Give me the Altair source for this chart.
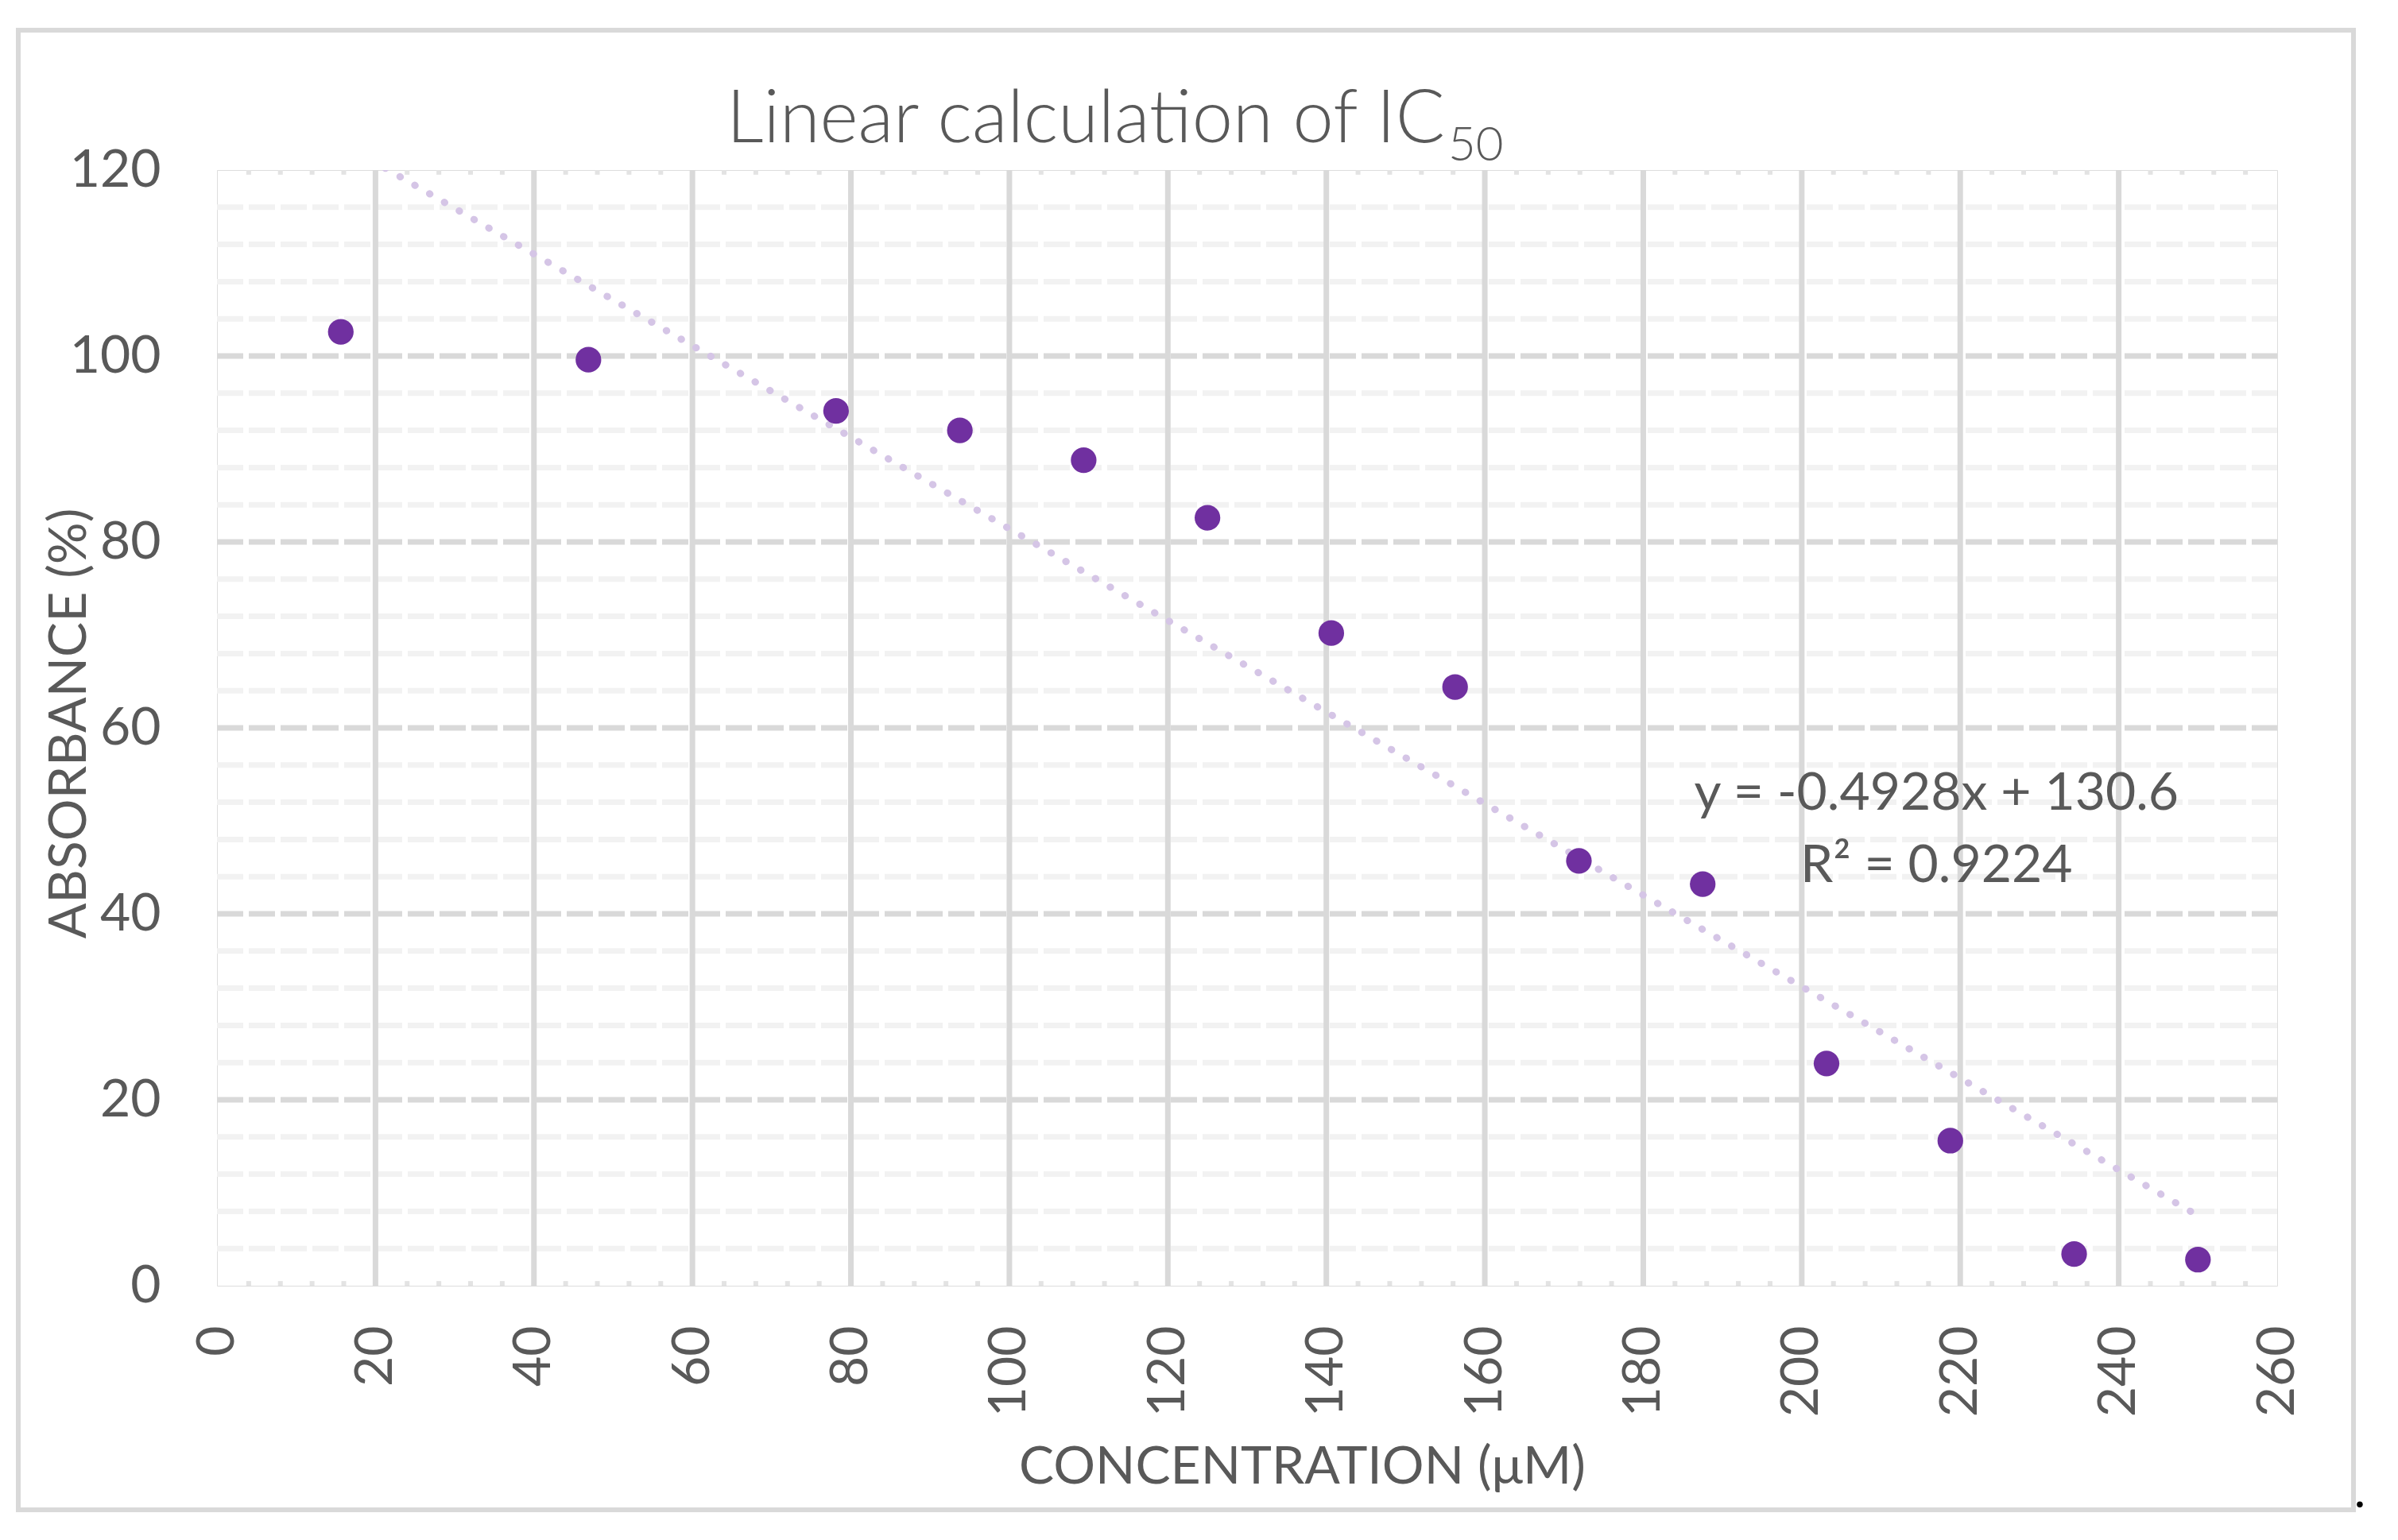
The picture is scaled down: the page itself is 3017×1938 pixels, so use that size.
import altair as alt
import pandas as pd

# ---- data ----
concentration = [15.625, 46.875, 78.125, 93.75, 109.375, 125.0, 140.625,
                 156.25, 171.875, 187.5, 203.125, 218.75, 234.375, 250.0]
absorbance = [102.6, 99.6, 94.1, 92.0, 88.8, 82.6, 70.2,
              64.4, 45.7, 43.2, 23.9, 15.6, 3.4, 2.8]
x_ticks = list(range(0, 261, 20))
y_ticks = list(range(0, 121, 20))
x_minor = [v for v in range(0, 261, 4) if v % 20 != 0]
y_minor = [v for v in range(0, 121, 4) if v % 20 != 0]
title_main = "Linear calculation of IC"
title_sub = "50"
equation_text = "y = -0.4928x + 130.6"
r2_text = "R² = 0.9224"
x_title = "CONCENTRATION (μM)"
y_title = "ABSORBANCE (%)"

W, H = 2592, 1404
TXT = "#595959"
GRID = "#d9d9d9"
MINOR = "#f2f2f2"
FONT = "Lato"

df = pd.DataFrame({"x": concentration, "y": absorbance})
one = pd.DataFrame({"k": [0]})

xs = alt.Scale(domain=[0, 260], nice=False, zero=False)
ys = alt.Scale(domain=[0, 120], nice=False, zero=False)

xaxis = alt.Axis(values=x_ticks, title=x_title, labelAngle=270, labelFontSize=66,
                 labelColor=TXT, labelFont=FONT, labelPadding=50, labelFlush=False,
                 labelOverlap=False, labelBound=False, ticks=False, domain=False, grid=False,
                 titleFontSize=66, titleColor=TXT, titleFont=FONT, titleFontWeight="normal",
                 titleX=1365, titleY=248, titleBaseline="alphabetic", titleAlign="center")
yaxis = alt.Axis(values=y_ticks, title=y_title, labelFontSize=66, labelColor=TXT,
                 labelFont=FONT, labelPadding=71, labelFlush=False, labelOverlap=False,
                 ticks=False, domain=False, grid=False,
                 titleFontSize=66, titleColor=TXT, titleFont=FONT, titleFontWeight="normal",
                 titleAngle=270, titleX=-166, titleY=696, titleBaseline="alphabetic",
                 titleAlign="center")

def X(field="x"):
    return alt.X(f"{field}:Q", scale=xs, axis=xaxis)

def Y(field="y"):
    return alt.Y(f"{field}:Q", scale=ys, axis=yaxis)

# minor horizontal gridlines
minor_h = alt.Chart(pd.DataFrame({"y": y_minor})).mark_rule(
    color=MINOR, strokeWidth=7, strokeDash=[33, 7]
).encode(y=Y(), x=alt.datum(0), x2=alt.datum(260))

# major horizontal gridlines
major_h = alt.Chart(pd.DataFrame({"y": [v for v in y_ticks if 0 < v < 120]})).mark_rule(
    color=GRID, strokeWidth=7, strokeDash=[33, 7]
).encode(y=Y(), x=alt.datum(0), x2=alt.datum(260))

# major vertical gridlines
major_v = alt.Chart(pd.DataFrame({"x": [v for v in x_ticks if 0 < v < 260]})).mark_rule(
    color=GRID, strokeWidth=7
).encode(x=X(), y=alt.datum(0), y2=alt.datum(120))

# minor tick marks along bottom and top edges
minor_b = alt.Chart(pd.DataFrame({"x": x_minor})).mark_rule(
    color="#e3e3e3", strokeWidth=6
).encode(x=X(), y=alt.datum(0), y2=alt.datum(0.5))
minor_t = alt.Chart(pd.DataFrame({"x": x_minor})).mark_rule(
    color="#e3e3e3", strokeWidth=6
).encode(x=X(), y=alt.datum(120), y2=alt.datum(119.5))

# linear trendline
trend = alt.Chart(df).transform_regression(
    "x", "y", extent=[concentration[0], concentration[-1]]
).mark_line(clip=True, color="#d5c5e6", strokeWidth=9, strokeDash=[0.5, 21],
            strokeCap="round").encode(x=X(), y=Y())

points = alt.Chart(df).mark_circle(size=1040, color="#7030A0", opacity=1).encode(
    x=X(), y=Y())

eq = alt.Chart(pd.DataFrame({"t": [equation_text]})).mark_text(
    fontSize=66, color=TXT, font=FONT, align="center", baseline="alphabetic"
).encode(x=alt.datum(217.0), y=alt.datum(51.2), text="t:N")
r2 = alt.Chart(pd.DataFrame({"t": [r2_text]})).mark_text(
    fontSize=66, color=TXT, font=FONT, align="center", baseline="alphabetic"
).encode(x=alt.datum(217.0), y=alt.datum(43.4), text="t:N")

title1 = alt.Chart(pd.DataFrame({"t": [title_main]})).mark_text(
    fontSize=92, color=TXT, font=FONT, fontWeight=300, align="right", baseline="alphabetic"
).encode(x=alt.value(1545), y=alt.value(-35), text="t:N")
title2 = alt.Chart(pd.DataFrame({"t": [title_sub]})).mark_text(
    fontSize=60, color=TXT, font=FONT, fontWeight=300, align="left", baseline="alphabetic"
).encode(x=alt.value(1549), y=alt.value(-12), text="t:N")

border = alt.Chart(one).mark_rect(
    fillOpacity=0, stroke=GRID, strokeWidth=6
).encode(x=alt.value(-250), x2=alt.value(2688), y=alt.value(-176), y2=alt.value(1686))

dot = alt.Chart(pd.DataFrame({"t": ["."]})).mark_text(
    fontSize=50, color="#000000", font=FONT, fontWeight="bold", align="left",
    baseline="alphabetic"
).encode(x=alt.value(2690), y=alt.value(1683), text="t:N")

chart = alt.layer(
    border, minor_h, major_h, major_v, minor_b, minor_t, trend, points,
    eq, r2, title1, title2, dot
).properties(
    width=W, height=H,
    autosize=alt.AutoSizeParams(type="none"),
    padding={"left": 265, "top": 206, "right": 144, "bottom": 312},
).configure_view(
    stroke=GRID, strokeWidth=6
).configure(background="white")

chart.save("out.html", embed_options={"renderer": "svg", "actions": False})
